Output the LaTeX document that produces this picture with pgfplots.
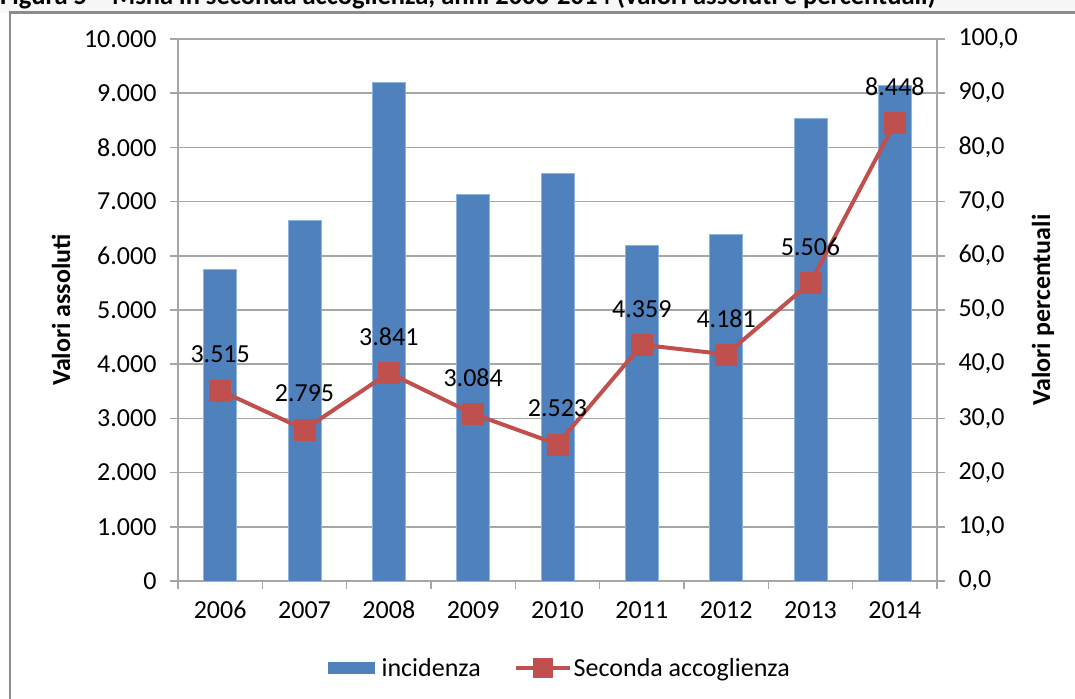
\documentclass[border=0pt]{standalone}
\usepackage{fontspec}
\setmainfont{Carlito}
\usepackage{pgfplots}
\pgfplotsset{compat=1.18}
\definecolor{barblue}{HTML}{4F81BD}
\definecolor{baredge}{HTML}{8DB3E2}
\definecolor{linered}{HTML}{C0504D}
\definecolor{gridgray}{HTML}{A6A6A6}
\definecolor{framegray}{HTML}{8C8C8C}
\newcommand{\tickfont}{\fontsize{26}{30}\selectfont}
\newcommand{\labfont}{\fontsize{26}{30}\selectfont\bfseries}

\begin{document}
\begin{tikzpicture}
\useasboundingbox (0pt,0pt) rectangle (1075pt,698pt);
\clip (0pt,0pt) rectangle (1075pt,698pt);
% title strip, cut at the top as in the source
\fill[gray!6] (0pt,685pt) rectangle (1075pt,698pt);
\node[anchor=base west, inner sep=0pt, font=\fontsize{26.5}{30}\selectfont\bfseries]
  at (0pt,693pt) {Figura 5 -- Msna in seconda accoglienza, anni 2006-2014 (valori assoluti e percentuali)};
\draw[framegray, line width=2.5pt] (10pt,-5pt) -- (10pt,685.5pt) -- (1085pt,685.5pt);

\begin{axis}[
    scale only axis, width=759pt, height=542pt,
    at={(178pt,117pt)}, anchor=south west,
    xmin=-0.5, xmax=8.5, ymin=0, ymax=10000,
    xtick={-0.5,0.5,...,8.5},
    xticklabels={2006,2007,2008,2009,2010,2011,2012,2013,2014,{}},
    xticklabel style={xshift=42.17pt, yshift=-20pt, text height=1.3ex, text depth=0pt},
    yticklabel style={xshift=-10pt},
    xtick pos=bottom, ytick pos=left,
    ytick={0,1000,...,10000},
    scaled y ticks=false,
    /pgf/number format/1000 sep={.},
    /pgf/number format/assume math mode=true,
    ymajorgrids,
    grid style={gridgray, line width=1.6pt},
    axis line style={gridgray, line width=1.6pt},
    tick style={gridgray, line width=1.6pt},
    tick align=outside, major tick length=8pt,
    tick label style={font=\tickfont, text=black},
    ylabel={Valori assoluti},
    ylabel style={font=\labfont, at={(axis description cs:-0.154,0.5)}, anchor=center},
    legend style={at={(0.503,-0.1605)}, anchor=center, draw=none, fill=none,
        legend columns=2, font=\tickfont,
        /tikz/every even column/.append style={column sep=31pt}},
]
\addplot[ybar, bar width=33pt, fill=barblue, draw=baredge, line width=0.8pt,
    legend image code/.code={\fill[barblue] (0pt,-5.5pt) rectangle (46pt,5.5pt);
        \path (51pt,0pt);}]
  coordinates {(0,5756) (1,6660) (2,9194) (3,7135) (4,7522) (5,6186) (6,6389) (7,8542) (8,9151)};
\addlegendentry{incidenza}
\addplot[linered, line width=4pt, mark=square*, mark size=10.5pt,
    mark options={fill=linered, draw=linered, line width=0.5pt},
    legend image code/.code={\draw[linered, line width=4pt] (0pt,0pt) -- (54pt,0pt);
        \fill[linered] (19pt,-8pt) rectangle (35pt,8pt);},
    nodes near coords={\pgfmathprintnumber[assume math mode=true, 1000 sep={.}]{\pgfplotspointmeta}},
    every node near coord/.append style={font=\tickfont, text=black, anchor=center, yshift=36pt}]
  coordinates {(0,3515) (1,2795) (2,3841) (3,3084) (4,2523) (5,4359) (6,4181) (7,5506) (8,8448)};
\addlegendentry{Seconda accoglienza}
\end{axis}

\begin{axis}[
    scale only axis, width=759pt, height=542pt,
    at={(178pt,117pt)}, anchor=south west,
    xmin=-0.5, xmax=8.5, ymin=0, ymax=100,
    axis x line=none, axis y line*=right,
    ytick={0,10,...,100},
    /pgf/number format/.cd, fixed, fixed zerofill, precision=1, use comma, assume math mode=true,
    /pgfplots/.cd,
    yticklabel style={xshift=10pt},
    axis line style={gridgray, line width=1.6pt},
    tick style={gridgray, line width=1.6pt},
    tick align=outside, major tick length=8pt,
    tick label style={font=\tickfont, text=black},
    ylabel={Valori percentuali},
    ylabel style={font=\labfont, at={(axis description cs:1.1397,0.5)}, anchor=center},
]
\end{axis}
\end{tikzpicture}
\end{document}
